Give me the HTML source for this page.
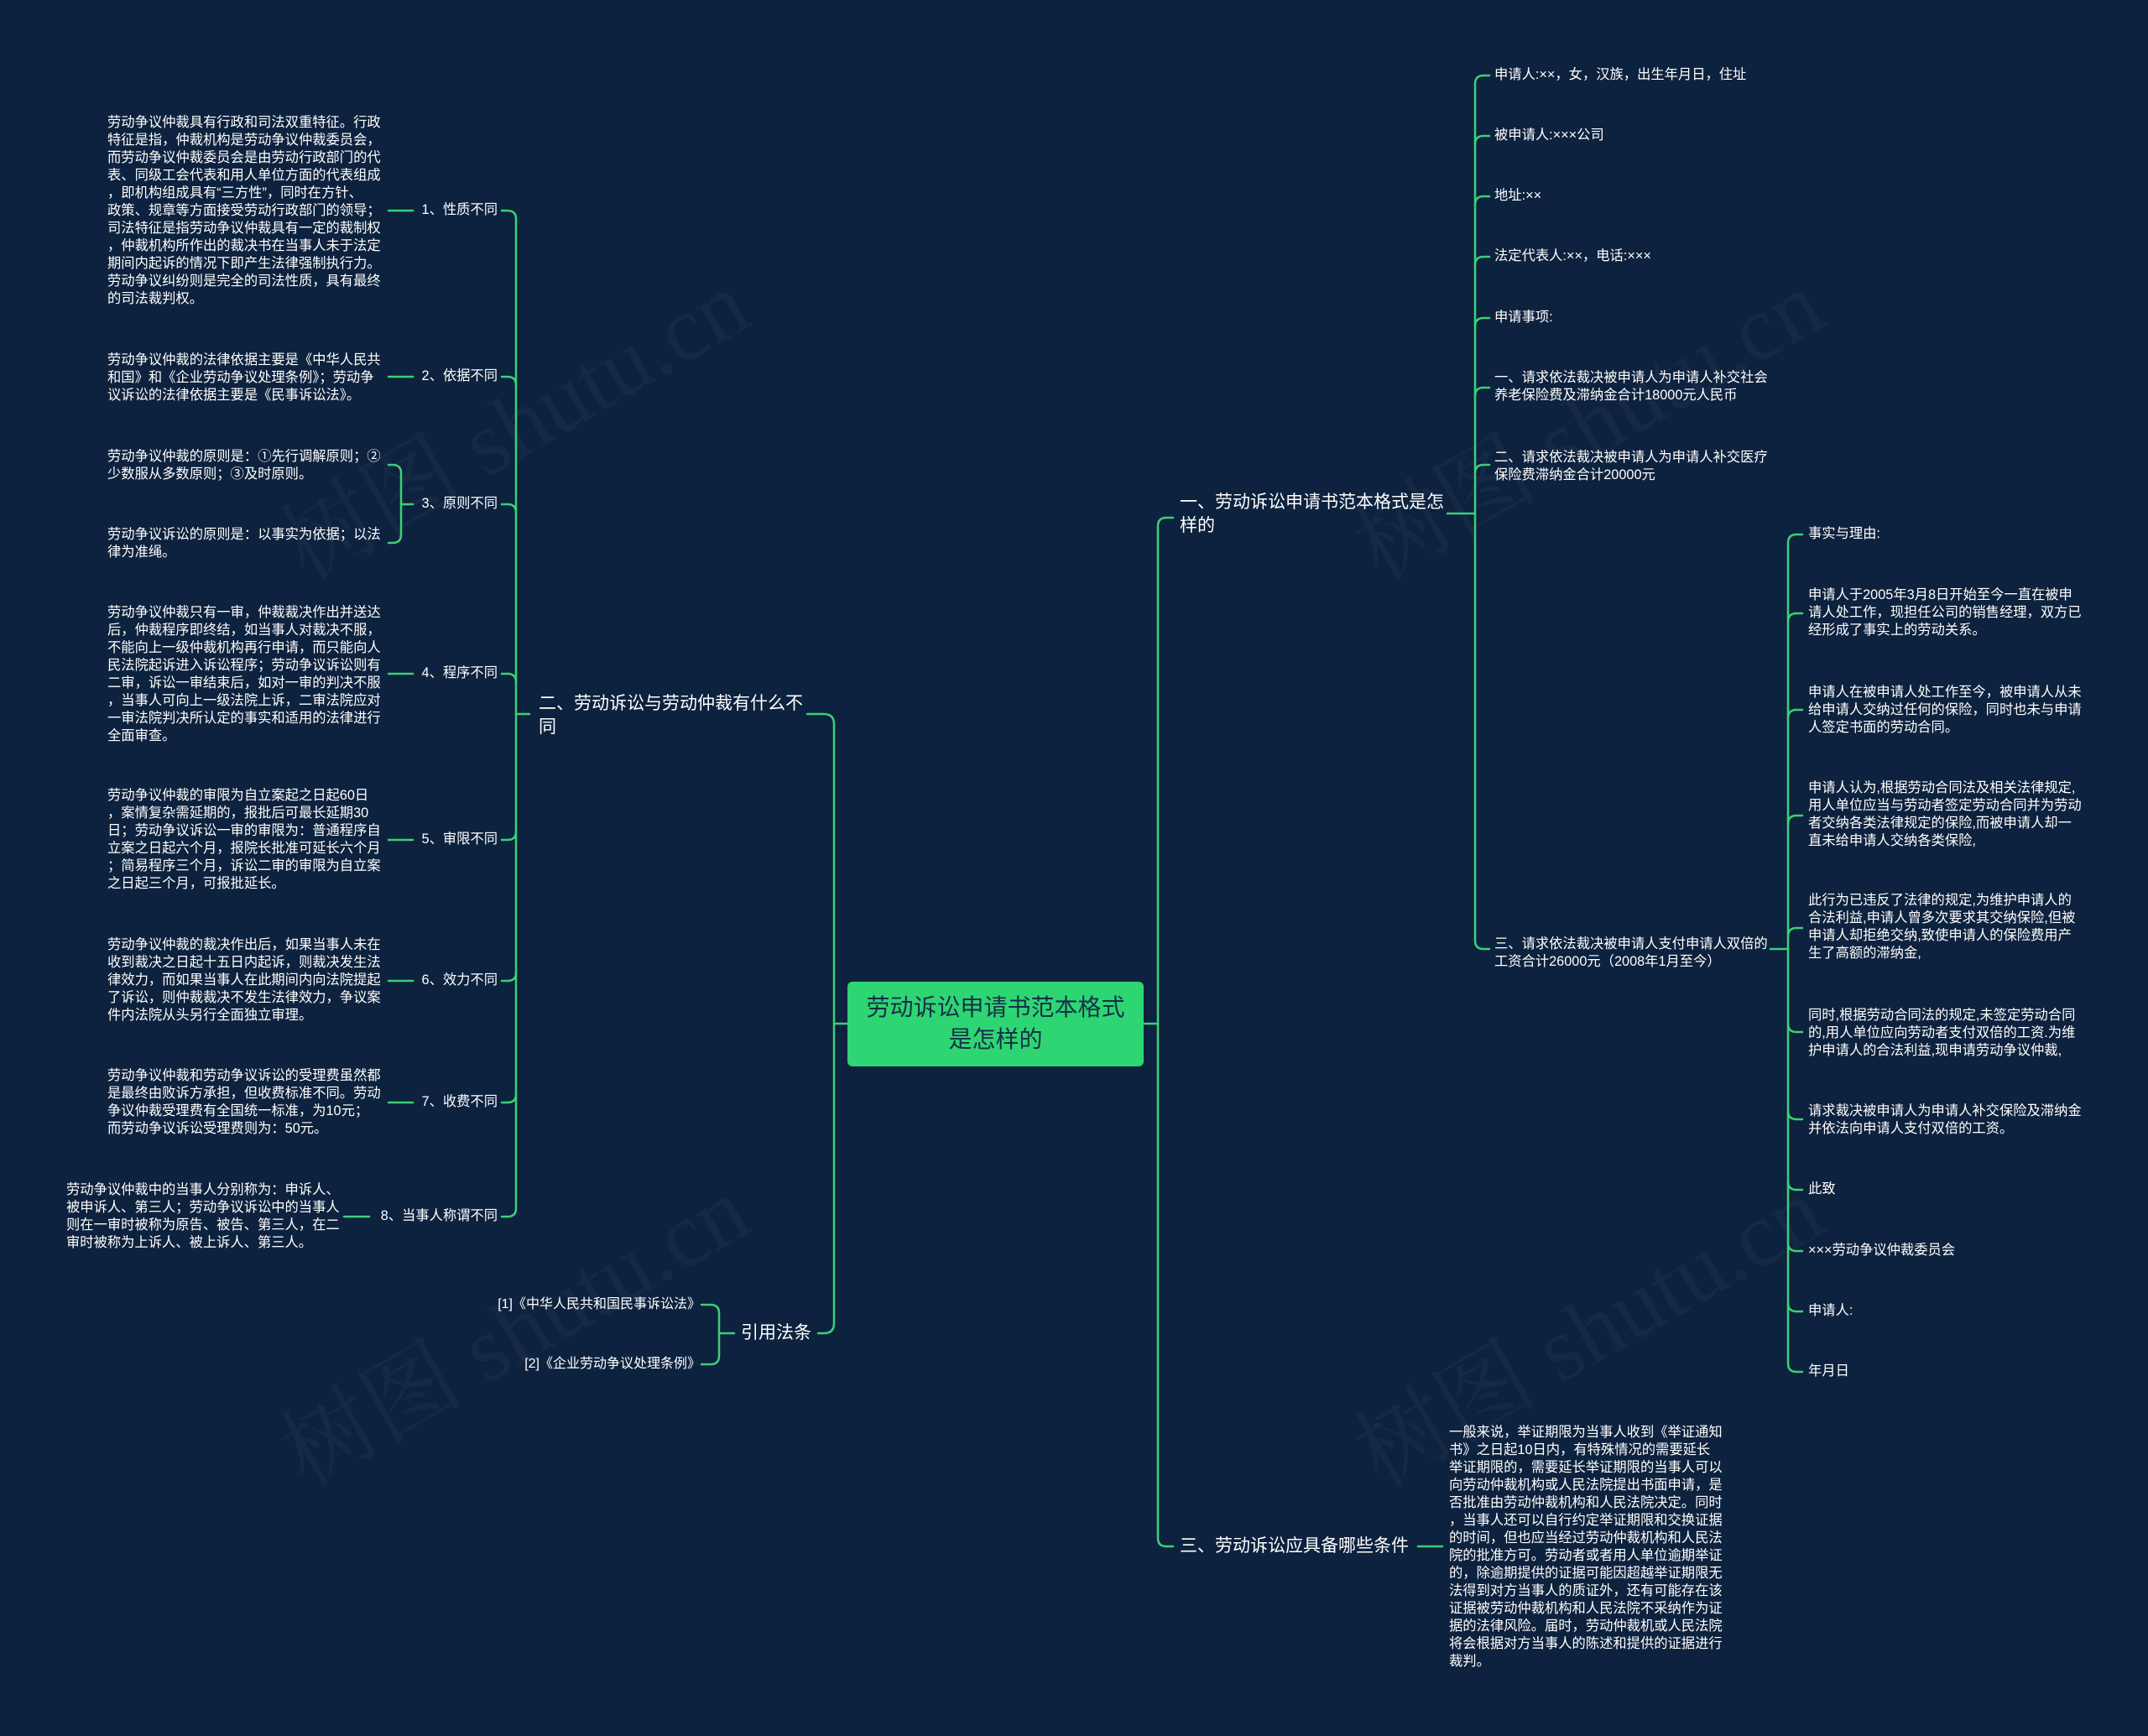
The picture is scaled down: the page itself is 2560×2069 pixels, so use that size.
<!DOCTYPE html>
<html><head><meta charset="utf-8">
<style>
html,body{margin:0;padding:0;}
body{width:2560px;height:2069px;background:#0d223e;position:relative;overflow:hidden;font-family:"Liberation Sans","Noto Sans CJK SC",sans-serif;color:#fff;}
.t{position:absolute;white-space:nowrap;font-size:16.3px;line-height:21px;}
.r{text-align:right;}
.m{position:absolute;white-space:nowrap;font-size:21px;line-height:28px;}
svg{position:absolute;left:0;top:0;}
.wm{position:absolute;font-family:"Liberation Serif","Noto Serif CJK SC",serif;font-size:110px;color:rgba(255,255,255,0.035);transform:rotate(-30deg);white-space:nowrap;}
</style></head><body>
<div class="wm" style="left:300px;top:420px;">树图 shutu.cn</div>
<div class="wm" style="left:300px;top:1500px;">树图 shutu.cn</div>
<div class="wm" style="left:1580px;top:420px;">树图 shutu.cn</div>
<div class="wm" style="left:1580px;top:1500px;">树图 shutu.cn</div>
<svg width="2560" height="2069" viewBox="0 0 2560 2069" fill="none" stroke="#3ccf78" stroke-width="2.5" stroke-linecap="round">
<path d="M1010 1220 H994"/>
<path d="M994 1220 V863 Q994 851 982 851 H962"/>
<path d="M994 1220 V1577 Q994 1589 982 1589 H975"/>
<path d="M875 1589 H857"/>
<path d="M857 1589 V1565 Q857 1555 847 1555 H836"/>
<path d="M857 1589 V1616 Q857 1626 847 1626 H836"/>
<path d="M631 851 H615"/>
<path d="M615 851 V261 Q615 251 605 251 H598"/>
<path d="M615 851 V1440 Q615 1450 605 1450 H598"/>
<path d="M615 459 Q615 449 605 449 H598"/>
<path d="M615 611 Q615 601 605 601 H598"/>
<path d="M615 813 Q615 803 605 803 H598"/>
<path d="M615 991 Q615 1001 605 1001 H598"/>
<path d="M615 1159 Q615 1169 605 1169 H598"/>
<path d="M615 1304 Q615 1314 605 1314 H598"/>
<path d="M463 251 H492"/>
<path d="M463 449 H492"/>
<path d="M492 601 H478"/>
<path d="M478 601 V564 Q478 554 468 554 H463"/>
<path d="M478 601 V637 Q478 647 468 647 H463"/>
<path d="M463 803 H492"/>
<path d="M463 1001 H492"/>
<path d="M463 1169 H492"/>
<path d="M463 1314 H492"/>
<path d="M410 1450 H440"/>
<path d="M1363 1220 H1380"/>
<path d="M1380 1220 V627 Q1380 617 1390 617 H1398"/>
<path d="M1380 1220 V1833 Q1380 1843 1390 1843 H1398"/>
<path d="M1725 612 H1758"/>
<path d="M1758 612 V100 Q1758 90 1768 90 H1775"/>
<path d="M1758 612 V1121 Q1758 1131 1768 1131 H1775"/>
<path d="M1758 172 Q1758 162 1768 162 H1775"/>
<path d="M1758 244 Q1758 234 1768 234 H1775"/>
<path d="M1758 316 Q1758 306 1768 306 H1775"/>
<path d="M1758 389 Q1758 379 1768 379 H1775"/>
<path d="M1758 472 Q1758 462 1768 462 H1775"/>
<path d="M1758 564 Q1758 554 1768 554 H1775"/>
<path d="M2110 1131 H2131"/>
<path d="M2131 1131 V647 Q2131 637 2141 637 H2148"/>
<path d="M2131 1131 V1625 Q2131 1635 2141 1635 H2148"/>
<path d="M2131 741 Q2131 731 2141 731 H2148"/>
<path d="M2131 856 Q2131 846 2141 846 H2148"/>
<path d="M2131 982 Q2131 972 2141 972 H2148"/>
<path d="M2131 1116 Q2131 1106 2141 1106 H2148"/>
<path d="M2131 1220 Q2131 1230 2141 1230 H2148"/>
<path d="M2131 1324 Q2131 1334 2141 1334 H2148"/>
<path d="M2131 1408 Q2131 1418 2141 1418 H2148"/>
<path d="M2131 1481 Q2131 1491 2141 1491 H2148"/>
<path d="M2131 1553 Q2131 1563 2141 1563 H2148"/>
<path d="M1690 1843 H1719"/>
</svg>

<div style="position:absolute;left:1010px;top:1170px;width:353px;height:101px;background:#2ed573;border-radius:6px;"></div>
<div style="position:absolute;left:1010px;top:1182px;width:353px;text-align:center;font-size:28px;line-height:38px;color:#163048;">劳动诉讼申请书范本格式<br>是怎样的</div>

<div class="m" style="left:642px;top:825px;">二、劳动诉讼与劳动仲裁有什么不<br>同</div>
<div class="m" style="left:883px;top:1575px;">引用法条</div>
<div class="m" style="left:1406px;top:585px;">一、劳动诉讼申请书范本格式是怎<br>样的</div>
<div class="m" style="left:1406px;top:1829px;">三、劳动诉讼应具备哪些条件</div>

<div class="t r" style="right:1725px;top:1544px;font-size:16px;">[1]《中华人民共和国民事诉讼法》</div>
<div class="t r" style="right:1725px;top:1615px;font-size:16px;">[2]《企业劳动争议处理条例》</div>

<div class="t r" style="right:1967px;top:240px;">1、性质不同</div>
<div class="t r" style="right:1967px;top:438px;">2、依据不同</div>
<div class="t r" style="right:1967px;top:590px;">3、原则不同</div>
<div class="t r" style="right:1967px;top:792px;">4、程序不同</div>
<div class="t r" style="right:1967px;top:990px;">5、审限不同</div>
<div class="t r" style="right:1967px;top:1158px;">6、效力不同</div>
<div class="t r" style="right:1967px;top:1303px;">7、收费不同</div>
<div class="t r" style="right:1967px;top:1439px;">8、当事人称谓不同</div>

<div class="t" style="left:128px;top:136px;">劳动争议仲裁具有行政和司法双重特征。行政<br>特征是指，仲裁机构是劳动争议仲裁委员会，<br>而劳动争议仲裁委员会是由劳动行政部门的代<br>表、同级工会代表和用人单位方面的代表组成<br>，即机构组成具有“三方性”，同时在方针、<br>政策、规章等方面接受劳动行政部门的领导；<br>司法特征是指劳动争议仲裁具有一定的裁制权<br>，仲裁机构所作出的裁决书在当事人未于法定<br>期间内起诉的情况下即产生法律强制执行力。<br>劳动争议纠纷则是完全的司法性质，具有最终<br>的司法裁判权。</div>
<div class="t" style="left:128px;top:419px;">劳动争议仲裁的法律依据主要是《中华人民共<br>和国》和《企业劳动争议处理条例》；劳动争<br>议诉讼的法律依据主要是《民事诉讼法》。</div>
<div class="t" style="left:128px;top:534px;">劳动争议仲裁的原则是：①先行调解原则；②<br>少数服从多数原则；③及时原则。</div>
<div class="t" style="left:128px;top:627px;">劳动争议诉讼的原则是：以事实为依据；以法<br>律为准绳。</div>
<div class="t" style="left:128px;top:720px;">劳动争议仲裁只有一审，仲裁裁决作出并送达<br>后，仲裁程序即终结，如当事人对裁决不服，<br>不能向上一级仲裁机构再行申请，而只能向人<br>民法院起诉进入诉讼程序；劳动争议诉讼则有<br>二审，诉讼一审结束后，如对一审的判决不服<br>，当事人可向上一级法院上诉，二审法院应对<br>一审法院判决所认定的事实和适用的法律进行<br>全面审查。</div>
<div class="t" style="left:128px;top:938px;">劳动争议仲裁的审限为自立案起之日起60日<br>，案情复杂需延期的，报批后可最长延期30<br>日；劳动争议诉讼一审的审限为：普通程序自<br>立案之日起六个月，报院长批准可延长六个月<br>；简易程序三个月，诉讼二审的审限为自立案<br>之日起三个月，可报批延长。</div>
<div class="t" style="left:128px;top:1116px;">劳动争议仲裁的裁决作出后，如果当事人未在<br>收到裁决之日起十五日内起诉，则裁决发生法<br>律效力，而如果当事人在此期间内向法院提起<br>了诉讼，则仲裁裁决不发生法律效力，争议案<br>件内法院从头另行全面独立审理。</div>
<div class="t" style="left:128px;top:1272px;">劳动争议仲裁和劳动争议诉讼的受理费虽然都<br>是最终由败诉方承担，但收费标准不同。劳动<br>争议仲裁受理费有全国统一标准，为10元；<br>而劳动争议诉讼受理费则为：50元。</div>
<div class="t" style="left:79px;top:1408px;">劳动争议仲裁中的当事人分别称为：申诉人、<br>被申诉人、第三人；劳动争议诉讼中的当事人<br>则在一审时被称为原告、被告、第三人，在二<br>审时被称为上诉人、被上诉人、第三人。</div>

<div class="t" style="left:1781px;top:79px;">申请人:××，女，汉族，出生年月日，住址</div>
<div class="t" style="left:1781px;top:151px;">被申请人:×××公司</div>
<div class="t" style="left:1781px;top:223px;">地址:××</div>
<div class="t" style="left:1781px;top:295px;">法定代表人:××，电话:×××</div>
<div class="t" style="left:1781px;top:368px;">申请事项:</div>
<div class="t" style="left:1781px;top:440px;">一、请求依法裁决被申请人为申请人补交社会<br>养老保险费及滞纳金合计18000元人民币</div>
<div class="t" style="left:1781px;top:535px;">二、请求依法裁决被申请人为申请人补交医疗<br>保险费滞纳金合计20000元</div>
<div class="t" style="left:1781px;top:1115px;">三、请求依法裁决被申请人支付申请人双倍的<br>工资合计26000元（2008年1月至今）</div>

<div class="t" style="left:2155px;top:626px;">事实与理由:</div>
<div class="t" style="left:2155px;top:699px;">申请人于2005年3月8日开始至今一直在被申<br>请人处工作，现担任公司的销售经理，双方已<br>经形成了事实上的劳动关系。</div>
<div class="t" style="left:2155px;top:815px;">申请人在被申请人处工作至今，被申请人从未<br>给申请人交纳过任何的保险，同时也未与申请<br>人签定书面的劳动合同。</div>
<div class="t" style="left:2155px;top:929px;">申请人认为,根据劳动合同法及相关法律规定,<br>用人单位应当与劳动者签定劳动合同并为劳动<br>者交纳各类法律规定的保险,而被申请人却一<br>直未给申请人交纳各类保险,</div>
<div class="t" style="left:2155px;top:1063px;">此行为已违反了法律的规定,为维护申请人的<br>合法利益,申请人曾多次要求其交纳保险,但被<br>申请人却拒绝交纳,致使申请人的保险费用产<br>生了高额的滞纳金,</div>
<div class="t" style="left:2155px;top:1200px;">同时,根据劳动合同法的规定,未签定劳动合同<br>的,用人单位应向劳动者支付双倍的工资.为维<br>护申请人的合法利益,现申请劳动争议仲裁,</div>
<div class="t" style="left:2155px;top:1314px;">请求裁决被申请人为申请人补交保险及滞纳金<br>并依法向申请人支付双倍的工资。</div>
<div class="t" style="left:2155px;top:1407px;">此致</div>
<div class="t" style="left:2155px;top:1480px;">×××劳动争议仲裁委员会</div>
<div class="t" style="left:2155px;top:1552px;">申请人:</div>
<div class="t" style="left:2155px;top:1624px;">年月日</div>

<div class="t" style="left:1727px;top:1697px;">一般来说，举证期限为当事人收到《举证通知<br>书》之日起10日内，有特殊情况的需要延长<br>举证期限的，需要延长举证期限的当事人可以<br>向劳动仲裁机构或人民法院提出书面申请，是<br>否批准由劳动仲裁机构和人民法院决定。同时<br>，当事人还可以自行约定举证期限和交换证据<br>的时间，但也应当经过劳动仲裁机构和人民法<br>院的批准方可。劳动者或者用人单位逾期举证<br>的，除逾期提供的证据可能因超越举证期限无<br>法得到对方当事人的质证外，还有可能存在该<br>证据被劳动仲裁机构和人民法院不采纳作为证<br>据的法律风险。届时，劳动仲裁机或人民法院<br>将会根据对方当事人的陈述和提供的证据进行<br>裁判。</div>
</body></html>
